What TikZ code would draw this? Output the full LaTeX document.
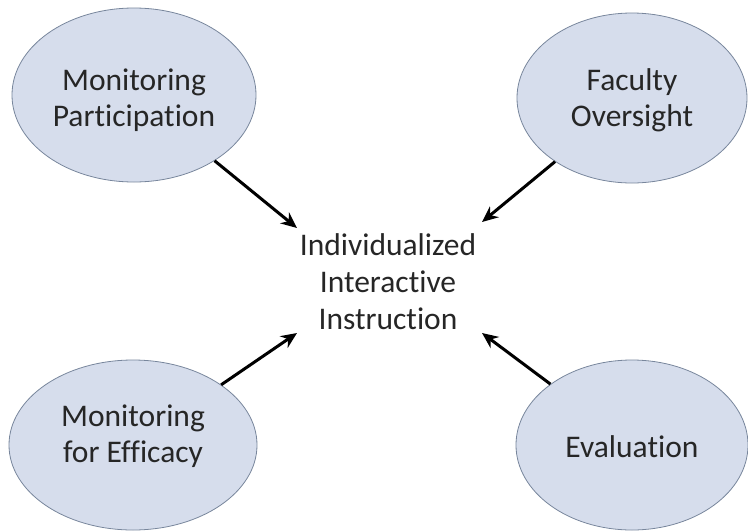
\documentclass[tikz,border=0pt]{standalone}
\usepackage{fontspec}
\setmainfont[Ligatures={CommonOff}]{Carlito}
\usetikzlibrary{shapes.geometric,arrows.meta}
\definecolor{ellfill}{RGB}{214,221,236}
\definecolor{elldraw}{RGB}{120,134,156}
\definecolor{txt}{RGB}{38,38,38}
\tikzset{
  bubble/.style={ellipse, draw=elldraw, fill=ellfill, line width=0.8pt, inner sep=0pt},
  bubbletext/.style={align=center, text=txt, inner sep=0pt, font=\fontsize{31.5}{36}\selectfont},
  conn/.style={line width=3pt, -{Stealth[length=16pt,width=14pt]}, black},
  centertext/.style={align=center, text=txt, font=\fontsize{31.5}{37}\selectfont}
}
\begin{document}
\begin{tikzpicture}[x=1pt,y=-1pt]
\useasboundingbox (0,0) rectangle (748,531);
\node[bubble, minimum width=244pt, minimum height=174pt,
  label={[bubbletext, yshift=-5pt]center:Monitoring\\Participation}] (mp) at (134,95) {};
\node[bubble, minimum width=230pt, minimum height=170pt,
  label={[bubbletext, yshift=-2pt]center:Faculty\\Oversight}] (fo) at (632,98) {};
\node[bubble, minimum width=248pt, minimum height=170pt,
  label={[bubbletext, yshift=9pt]center:Monitoring\\for Efficacy}] (me) at (133,445) {};
\node[bubble, minimum width=232pt, minimum height=170pt,
  label={[bubbletext, yshift=-2pt]center:Evaluation}] (ev) at (632,445) {};
\node[centertext] (iii) at (388,282) {Individualized\\Interactive\\Instruction};
\coordinate (e1) at (297,228);
\coordinate (e2) at (482,222);
\coordinate (e3) at (297,333);
\coordinate (e4) at (482,333);
\draw[conn] (mp) -- (e1);
\draw[conn] (fo) -- (e2);
\draw[conn] (me) -- (e3);
\draw[conn] (ev) -- (e4);
\end{tikzpicture}
\end{document}
